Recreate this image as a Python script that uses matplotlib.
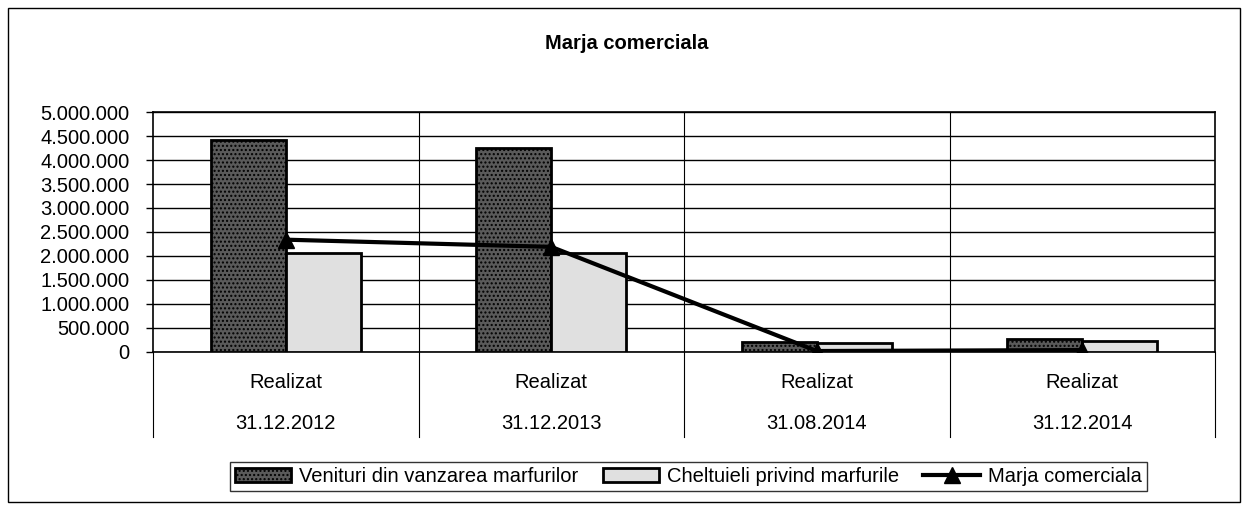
import numpy as np
import matplotlib.pyplot as plt
from matplotlib.patches import Rectangle
from matplotlib.ticker import FuncFormatter

plt.rcParams['font.family'] = ['Liberation Sans', 'DejaVu Sans']

top_labels = ["Realizat", "Realizat", "Realizat", "Realizat"]
dates = ["31.12.2012", "31.12.2013", "31.08.2014", "31.12.2014"]
venituri = [4410000, 4250000, 210000, 270000]
cheltuieli = [2070000, 2060000, 190000, 230000]
marja = [2340000, 2190000, 20000, 40000]

fig = plt.figure(figsize=(12.49, 5.11), dpi=100)
ax = fig.add_axes([0.1225, 0.3112, 0.8503, 0.4696])

x = np.arange(len(dates))
w = 0.283
b1 = ax.bar(x - w / 2, venituri, w, color='#5a5a5a', edgecolor='black', linewidth=2,
            hatch='....', label='Venituri din vanzarea marfurilor', zorder=3)
b2 = ax.bar(x + w / 2, cheltuieli, w, color='#e0e0e0', edgecolor='black', linewidth=2,
            label='Cheltuieli privind marfurile', zorder=3)
ln, = ax.plot(x, marja, color='black', linewidth=3, marker='^', markersize=11,
              label='Marja comerciala', zorder=4)

ax.set_xlim(-0.5, len(dates) - 0.5)
ax.set_ylim(0, 5000000)
ax.set_yticks(np.arange(0, 5000001, 500000))
ax.yaxis.set_major_formatter(FuncFormatter(lambda v, p: f"{int(v):,}".replace(",", ".")))
ax.tick_params(axis='y', labelsize=14.5, length=5, width=1, pad=12)
ax.tick_params(axis='x', length=0, labelbottom=False)
ax.grid(axis='y', color='black', linewidth=1, zorder=0)
for b in np.arange(0.5, len(dates) - 0.5, 1):
    ax.axvline(b, color='black', linewidth=0.8, zorder=0)
for s in ax.spines.values():
    s.set_linewidth(1.2)

# multi-level category labels
trans = ax.get_xaxis_transform()
for i in range(len(dates)):
    ax.text(i, -0.129, top_labels[i], transform=trans, ha='center', va='center', fontsize=14.5)
    ax.text(i, -0.296, dates[i], transform=trans, ha='center', va='center', fontsize=14.5)
for b in np.arange(-0.5, len(dates), 1):
    ax.plot([b, b], [0, -0.354], transform=trans, color='black', linewidth=0.8, clip_on=False)

fig.text(0.502, 0.915, "Marja comerciala", ha='center', va='center', fontsize=14.5, fontweight='bold')

leg = fig.legend(handles=[b1, b2, ln], loc='center', bbox_to_anchor=(0.551, 0.068), ncol=3,
                 fontsize=14.5, frameon=True, fancybox=False, handlelength=2.8, handletextpad=0.4,
                 columnspacing=1.2, borderpad=0.25)
leg.get_frame().set_edgecolor('black')
leg.get_frame().set_linewidth(1)

fig.patches.append(Rectangle((8 / 1249, 9 / 511), 1232 / 1249, 494 / 511, transform=fig.transFigure,
                             fill=False, edgecolor='black', linewidth=1))

fig.savefig('out.png', dpi=100)
